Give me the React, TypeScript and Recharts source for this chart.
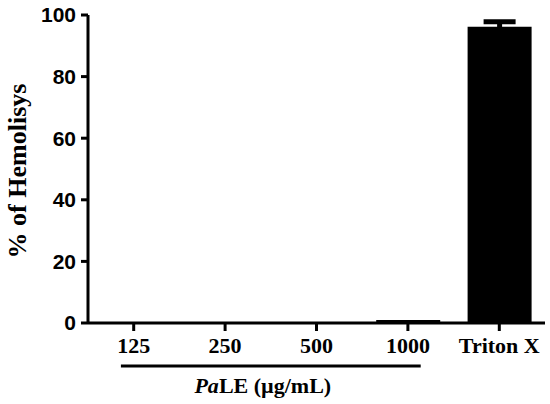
import { BarChart, Bar, XAxis, YAxis, ErrorBar } from "recharts";

const categories = ["125", "250", "500", "1000", "Triton X"];
const hemolysis = [0, 0, 0, 1.0, 96.2];
const errors = [0, 0, 0, 0, 1.6];
const yTicks = [0, 20, 40, 60, 80, 100];

const data = categories.map((c, i) => ({ name: c, value: hemolysis[i], err: errors[i] }));

const serif = "'Liberation Serif', 'Times New Roman', serif";
const sans = "'Liberation Sans', Arial, sans-serif";

function Caption(props: any) {
  const vb = props.viewBox || {};
  const x0 = vb.x ?? 88;
  const w = vb.width ?? 457;
  const y0 = vb.y ?? 323;
  const band = w / categories.length;
  // underline spans the four PaLE concentrations
  const left = x0 + band * 0.36;
  const right = x0 + band * 3.64;
  return (
    <g>
      <line x1={left} x2={right} y1={y0 + 43} y2={y0 + 43} stroke="#000" strokeWidth={3} />
      <text
        x={(left + right) / 2 - 8}
        y={y0 + 70}
        textAnchor="middle"
        fontFamily={serif}
        fontWeight="bold"
        fontSize={22}
        fill="#000"
      >
        <tspan fontStyle="italic">Pa</tspan>
        <tspan>LE (µg/mL)</tspan>
      </text>
    </g>
  );
}

export default function App() {
  return (
    <div style={{ position: "absolute", left: 0, top: 0, background: "#fff" }}>
      <BarChart width={550} height={404} data={data} margin={{ top: 15, right: 5, bottom: 0, left: 0 }}>
        <XAxis
          dataKey="name"
          height={81}
          axisLine={{ stroke: "#000", strokeWidth: 3 }}
          tickLine={{ stroke: "#000", strokeWidth: 3 }}
          tickSize={8}
          tickMargin={6}
          tick={{ fill: "#000", fontFamily: serif, fontWeight: "bold", fontSize: 22 }}
          interval={0}
          label={{ content: (p: any) => <Caption {...p} /> }}
        />
        <YAxis
          width={88}
          domain={[0, 100]}
          ticks={yTicks}
          axisLine={{ stroke: "#000", strokeWidth: 3 }}
          tickLine={{ stroke: "#000", strokeWidth: 3 }}
          tickSize={7}
          tickMargin={5}
          tick={{ fill: "#000", fontFamily: sans, fontWeight: "bold", fontSize: 21 }}
          label={{
            value: "% of Hemolisys",
            angle: -90,
            position: "insideLeft",
            dx: 12,
            dy: 2,
            style: { fill: "#000", fontFamily: serif, fontWeight: "bold", fontSize: 26, textAnchor: "middle" },
          }}
        />
        <Bar dataKey="value" fill="#000" barSize={64} isAnimationActive={false}>
          <ErrorBar dataKey="err" width={16} stroke="#000" strokeWidth={5} direction="y" />
        </Bar>
      </BarChart>
    </div>
  );
}
